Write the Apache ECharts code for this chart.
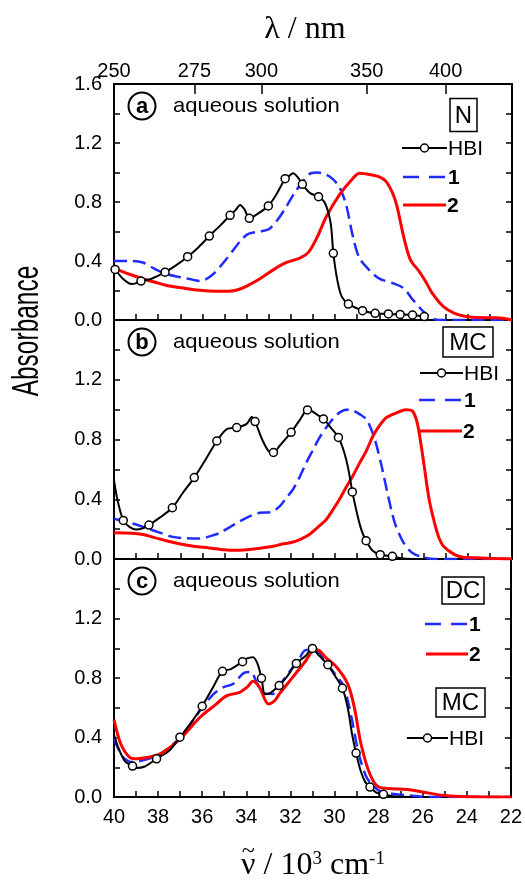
<!DOCTYPE html>
<html>
<head>
<meta charset="utf-8">
<script src="https://cdn.jsdelivr.net/npm/echarts@6/dist/echarts.min.js"></script>
<style>
html,body{margin:0;padding:0;background:#fff;}
#main{width:525px;height:882px;}
</style>
</head>
<body>
<div id="main"></div>
<script>
// wavenumber in 10^3 cm-1, absorbance (normalised)
var lambdaTicks = [250, 275, 300, 350, 400];

// panel a  (N)
var hbiA = [[40.0,0.345],[39.6,0.28],[39.2,0.244],[39.0,0.25],[38.3,0.28],[37.2,0.37],[36.2,0.49],[35.2,0.64],[34.5,0.745],[34.3,0.78],[34.1,0.75],[33.5,0.72],[32.7,0.84],[32.1,0.975],[31.9,0.995],[31.7,0.97],[31.13,0.86],[30.45,0.79],[30.2,0.655],[29.9,0.27],[29.7,0.158],[29.0,0.079]];
var hbiAMarks = [[39.95,0.343],[38.78,0.264],[37.69,0.324],[36.67,0.429],[35.69,0.569],[34.75,0.71],[33.88,0.689],[33.02,0.773],[32.26,0.958],[31.48,0.92],[30.75,0.836],[30.08,0.452],[29.4,0.108],[28.76,0.063],[28.19,0.045],[27.59,0.041],[27.06,0.038],[26.5,0.034],[25.97,0.023]];
var oneA = [[40,0.40],[39.2,0.40],[38.7,0.39],[38.2,0.35],[37.6,0.31],[37.0,0.29],[36.4,0.272],[36.1,0.265],[35.6,0.30],[35.1,0.38],[34.6,0.475],[34.2,0.55],[33.9,0.585],[33.4,0.60],[33.0,0.615],[32.6,0.68],[32.2,0.77],[31.8,0.87],[31.4,0.95],[31.1,0.995],[30.8,1.0],[30.4,0.985],[30.1,0.955],[29.8,0.90],[29.5,0.78],[29.2,0.57],[28.9,0.42],[28.4,0.33],[28.0,0.28],[27.4,0.25],[26.9,0.215],[26.5,0.14],[26.0,0.056],[25.6,0.012],[25.3,0],[22,0]];
var twoA = [[40,0.35],[39.3,0.31],[38.7,0.28],[38.0,0.25],[37.5,0.23],[36.8,0.215],[36.0,0.20],[35.4,0.195],[34.8,0.195],[34.4,0.205],[34.0,0.23],[33.4,0.28],[32.8,0.34],[32.2,0.39],[31.6,0.42],[31.2,0.46],[30.8,0.565],[30.4,0.70],[29.8,0.85],[29.2,0.96],[28.9,0.995],[28.4,0.985],[28.0,0.97],[27.7,0.94],[27.4,0.86],[27.2,0.77],[26.9,0.565],[26.6,0.41],[26.2,0.33],[25.9,0.26],[25.6,0.18],[25.1,0.09],[24.6,0.045],[24.0,0.022],[23.1,0.016],[22.7,0.016],[22.0,0.0]];

// panel b  (MC)
var hbiB = [[40,0.53],[39.85,0.40],[39.3,0.215],[39.0,0.197],[38.7,0.205],[37.9,0.28],[36.9,0.44],[35.8,0.68],[34.9,0.87],[34.0,0.905],[33.77,0.95],[33.3,0.80],[33.0,0.72],[32.5,0.76],[31.6,0.93],[31.05,0.99],[30.8,0.965],[30.2,0.88],[29.6,0.72],[29.4,0.60],[29.0,0.30],[28.8,0.19],[28.3,0.055],[27.0,0.005],[26.5,0]];
var hbiBMarks = [[39.58,0.258],[38.42,0.227],[37.36,0.343],[36.37,0.545],[35.35,0.79],[34.45,0.88],[33.62,0.92],[32.79,0.713],[31.99,0.848],[31.25,0.998],[30.53,0.938],[29.85,0.814],[29.22,0.449],[28.6,0.123],[27.96,0.029],[27.41,0.018]];
var oneB = [[40,0.27],[39.5,0.25],[39.0,0.231],[38.4,0.20],[37.9,0.175],[37.4,0.15],[36.9,0.14],[36.1,0.137],[35.6,0.155],[35.2,0.175],[34.8,0.21],[34.3,0.253],[33.8,0.29],[33.4,0.31],[32.9,0.314],[32.5,0.354],[32.2,0.41],[31.9,0.467],[31.6,0.55],[31.3,0.646],[31.0,0.73],[30.7,0.814],[30.4,0.88],[30.1,0.938],[29.8,0.98],[29.5,1.0],[29.2,0.995],[28.9,0.97],[28.6,0.938],[28.4,0.88],[28.2,0.80],[27.9,0.624],[27.6,0.42],[27.3,0.242],[26.9,0.108],[26.5,0.04],[26.0,0.011],[25.5,0.0],[22,0]];
var twoB = [[40,0.175],[39.2,0.172],[38.7,0.164],[38.2,0.145],[37.6,0.12],[37.0,0.10],[36.4,0.085],[35.7,0.074],[35.0,0.062],[34.6,0.058],[34.0,0.062],[33.4,0.072],[32.8,0.085],[32.4,0.10],[32.0,0.11],[31.6,0.13],[31.2,0.16],[30.8,0.21],[30.4,0.265],[30.1,0.33],[29.8,0.40],[29.5,0.48],[29.2,0.556],[28.9,0.64],[28.6,0.72],[28.3,0.82],[28.1,0.87],[27.7,0.945],[27.2,0.98],[26.8,1.0],[26.5,0.99],[26.3,0.92],[26.15,0.80],[25.95,0.60],[25.75,0.40],[25.5,0.24],[25.3,0.14],[25.1,0.085],[24.6,0.029],[24.2,0.011],[23.4,0.007],[22,0.0]];

// panel c  (DC / MC)
var hbiC = [[40,0.42],[39.8,0.33],[39.5,0.24],[39.0,0.195],[38.6,0.205],[37.5,0.31],[36.5,0.50],[35.5,0.74],[34.7,0.86],[34.0,0.93],[33.7,0.94],[33.5,0.90],[33.15,0.69],[32.9,0.70],[32.2,0.80],[31.3,0.95],[30.7,0.95],[30.0,0.82],[29.4,0.60],[29.2,0.42],[28.8,0.17],[28.6,0.10],[28.1,0.03],[27.3,0.005],[26.5,0]];
var hbiCMarks = [[39.16,0.208],[38.07,0.257],[37.01,0.402],[36.0,0.61],[35.08,0.845],[34.17,0.91],[33.31,0.798],[32.51,0.749],[31.73,0.898],[31.0,0.999],[30.3,0.889],[29.64,0.731],[29.02,0.295],[28.39,0.067],[27.78,0.018]];
var oneC = [[40,0.39],[39.6,0.27],[39.2,0.235],[38.6,0.25],[37.9,0.29],[37.0,0.40],[36.1,0.58],[35.5,0.69],[35.05,0.737],[34.6,0.76],[34.1,0.834],[33.8,0.84],[33.5,0.76],[33.24,0.70],[32.8,0.693],[32.4,0.77],[32.0,0.85],[31.6,0.93],[31.3,0.988],[30.8,0.983],[30.4,0.90],[30.1,0.85],[29.6,0.75],[29.4,0.65],[29.2,0.514],[28.9,0.29],[28.6,0.15],[28.4,0.10],[28.0,0.045],[27.4,0.022],[26.6,0.011],[25.7,0],[22,0]];
var twoC = [[40,0.52],[39.7,0.36],[39.3,0.268],[38.97,0.257],[38.5,0.265],[37.9,0.29],[37.0,0.391],[36.1,0.536],[35.35,0.626],[34.9,0.68],[34.3,0.704],[33.95,0.74],[33.7,0.778],[33.4,0.737],[33.0,0.626],[32.7,0.65],[32.5,0.693],[31.9,0.804],[31.3,0.916],[30.9,0.994],[30.7,0.985],[30.4,0.939],[29.9,0.872],[29.4,0.76],[29.1,0.603],[28.8,0.358],[28.4,0.156],[28.0,0.067],[27.4,0.056],[26.6,0.049],[26.0,0.034],[25.1,0.011],[24.3,0.004],[22,0]];

var SANS = 'Liberation Sans, Arial, sans-serif';
var SERIF = 'Liberation Serif, Times New Roman, serif';
var BLUE = '#1f2bff', RED = '#ff0000';

function withMarks(line, marks) {
    var pts = line.map(function (p) { return {value: p, symbol: 'none'}; })
        .concat(marks.map(function (p) { return {value: p}; }));
    pts.sort(function (a, b) { return b.value[0] - a.value[0]; });
    return pts;
}
function textWidth(str, size) {
    var ctx = document.createElement('canvas').getContext('2d');
    ctx.font = size + 'px ' + SERIF;
    return ctx.measureText(str).width;
}

var grids = [
    {left: 114, right: 13, top: 84, height: 236},
    {left: 114, right: 13, top: 320, height: 239},
    {left: 114, right: 13, top: 559, height: 238}
];

var xAxes = [], yAxes = [], series = [];
var panels = [[hbiA, hbiAMarks, oneA, twoA], [hbiB, hbiBMarks, oneB, twoB], [hbiC, hbiCMarks, oneC, twoC]];

panels.forEach(function (p, i) {
    xAxes.push({
        gridIndex: i, type: 'value', min: 22, max: 40, interval: 1, inverse: true, position: 'bottom',
        axisLine: {onZero: false, lineStyle: {color: '#000', width: 2}},
        axisTick: {inside: true, length: 6, lineStyle: {color: '#000', width: 1.5}},
        axisLabel: {show: i === 2, margin: 10, color: '#000', fontSize: 20, fontFamily: SANS,
            formatter: function (v) { return v % 2 === 0 ? String(v) : ''; }},
        splitLine: {show: false}
    });
    yAxes.push({
        gridIndex: i, type: 'value', min: 0, max: 1.6, interval: 0.2, position: 'left',
        axisLine: {show: true, onZero: false, lineStyle: {color: '#000', width: 2}},
        axisTick: {inside: true, length: 6, lineStyle: {color: '#000', width: 1.5}},
        axisLabel: {margin: 12, color: '#000', fontSize: 20, fontFamily: SANS,
            formatter: function (v) {
                var k = Math.round(v * 10);
                if (k % 4 !== 0) return '';
                if (i > 0 && k === 16) return '';
                return v.toFixed(1);
            }},
        splitLine: {show: false}
    });
    yAxes.push({
        gridIndex: i, type: 'value', min: 0, max: 1.6, interval: 0.2, position: 'right',
        axisLine: {show: true, onZero: false, lineStyle: {color: '#000', width: 2}},
        axisTick: {inside: true, length: 6, lineStyle: {color: '#000', width: 1.5}},
        axisLabel: {show: false},
        splitLine: {show: false}
    });
    series.push({
        type: 'line', name: '1', xAxisIndex: i, yAxisIndex: 2 * i, data: p[2],
        symbol: 'none', smooth: 0.3, lineStyle: {color: BLUE, width: 2.5, type: [13, 6]}, z: 2
    });
    series.push({
        type: 'line', name: '2', xAxisIndex: i, yAxisIndex: 2 * i, data: p[3],
        symbol: 'none', smooth: 0.3, lineStyle: {color: RED, width: 3}, z: 3
    });
    series.push({
        type: 'line', name: 'HBI', xAxisIndex: i, yAxisIndex: 2 * i, data: withMarks(p[0], p[1]),
        symbol: 'circle', symbolSize: 8, smooth: 0.3,
        lineStyle: {color: '#000', width: 2},
        itemStyle: {color: '#fff', borderColor: '#000', borderWidth: 1.5}, z: 4
    });
});

// wavelength scale on top of panel a
xAxes.push({
    gridIndex: 0, type: 'value', min: 22, max: 40, inverse: true, position: 'top',
    axisLine: {onZero: false, lineStyle: {color: '#000', width: 2}},
    axisTick: {inside: true, length: 10, lineStyle: {color: '#000', width: 1.5},
        customValues: lambdaTicks.map(function (l) { return 1e4 / l; })},
    axisLabel: {margin: 3, color: '#000', fontSize: 20, fontFamily: SANS,
        customValues: lambdaTicks.map(function (l) { return 1e4 / l; }),
        formatter: function (v) { return String(Math.round(1e4 / v)); }},
    splitLine: {show: false}
});

function circled(letter, cy) {
    return [
        {type: 'circle', shape: {cx: 142, cy: cy, r: 13.5}, style: {fill: 'none', stroke: '#000', lineWidth: 2}},
        {type: 'text', x: 142, y: cy + 1, style: {text: letter, fontSize: 22, fontWeight: 'bold', fontFamily: SANS, fill: '#000', align: 'center', verticalAlign: 'middle'}},
        {type: 'text', x: 173, y: cy, scaleX: 1.05, style: {text: 'aqueous solution', fontSize: 21, fontFamily: SANS, fill: '#000', align: 'left', verticalAlign: 'middle'}}
    ];
}
function boxed(label, x, y, w, h) {
    return [
        {type: 'rect', shape: {x: x, y: y, width: w, height: h}, style: {fill: '#fff', stroke: '#000', lineWidth: 1.5}},
        {type: 'text', x: x + w / 2, y: y + h / 2 + 1, style: {text: label, fontSize: 24, fontFamily: SANS, fill: '#000', align: 'center', verticalAlign: 'middle'}}
    ];
}
function key(kind, x1, x2, y) {
    var els = [];
    var ls = kind === 'HBI' ? {stroke: '#000', lineWidth: 2}
        : kind === '1' ? {stroke: BLUE, lineWidth: 2.5, lineDash: [16, 10]}
        : {stroke: RED, lineWidth: 3};
    els.push({type: 'line', shape: {x1: x1, y1: y, x2: x2, y2: y}, style: ls});
    if (kind === 'HBI') {
        els.push({type: 'circle', shape: {cx: (x1 + x2) / 2, cy: y, r: 4}, style: {fill: '#fff', stroke: '#000', lineWidth: 1.5}});
    }
    els.push({type: 'text', x: x2 + 1, y: y + 1, style: {text: kind, fontSize: 21, fontWeight: kind === 'HBI' ? 'normal' : 'bold', fontFamily: SANS, fill: '#000', align: 'left', verticalAlign: 'middle'}});
    return els;
}

// axis titles
var nuCx = 114 + 398 / 2, nuY = 866;
var nuWidth = textWidth('\u03bd / 10', 32) + textWidth('3', 19) + textWidth(' cm', 32) + textWidth('-1', 19);
var tildeX = nuCx - nuWidth / 2 + textWidth('\u03bd', 32) / 2;
var titles = [
    {type: 'text', x: 305, y: 30, style: {text: '\u03bb / nm', fontSize: 32, fontFamily: SERIF, fill: '#000', align: 'center', verticalAlign: 'middle'}},
    {type: 'text', x: nuCx, y: nuY, style: {
        text: '{n|\u03bd / 10}{s|3}{n| cm}{s|-1}', align: 'center', verticalAlign: 'middle',
        rich: {
            n: {fontSize: 32, fontFamily: SERIF, fill: '#000'},
            s: {fontSize: 19, fontFamily: SERIF, fill: '#000', verticalAlign: 'top'}
        }}},
    {type: 'text', x: tildeX, y: nuY - 14, style: {text: '~', fontSize: 24, fontFamily: SERIF, fill: '#000', align: 'center', verticalAlign: 'middle'}},
    {type: 'text', x: 28, y: 331, rotation: Math.PI / 2, scaleX: 0.68,
        style: {text: 'Absorbance', fontSize: 36, fontFamily: SANS, fill: '#000', align: 'center', verticalAlign: 'middle'}}
];

var graphics = [].concat(
    circled('a', 106), circled('b', 342), circled('c', 581),
    boxed('N', 450, 98.5, 27, 33),
    boxed('MC', 443, 327, 50, 30),
    boxed('DC', 442, 577, 42, 27),
    boxed('MC', 436, 688, 49, 29),
    key('HBI', 402, 447, 148), key('1', 403, 447, 177), key('2', 403, 446, 205),
    key('HBI', 420, 463, 373), key('1', 419, 463, 400), key('2', 420, 462, 431),
    key('1', 425, 468, 624), key('2', 426, 468, 654),
    key('HBI', 407, 448, 738),
    titles
);

var chart = echarts.init(document.getElementById('main'));
chart.setOption({
    animation: false,
    backgroundColor: '#fff',
    grid: grids,
    xAxis: xAxes,
    yAxis: yAxes,
    series: series,
    graphic: graphics
});
</script>
</body>
</html>
